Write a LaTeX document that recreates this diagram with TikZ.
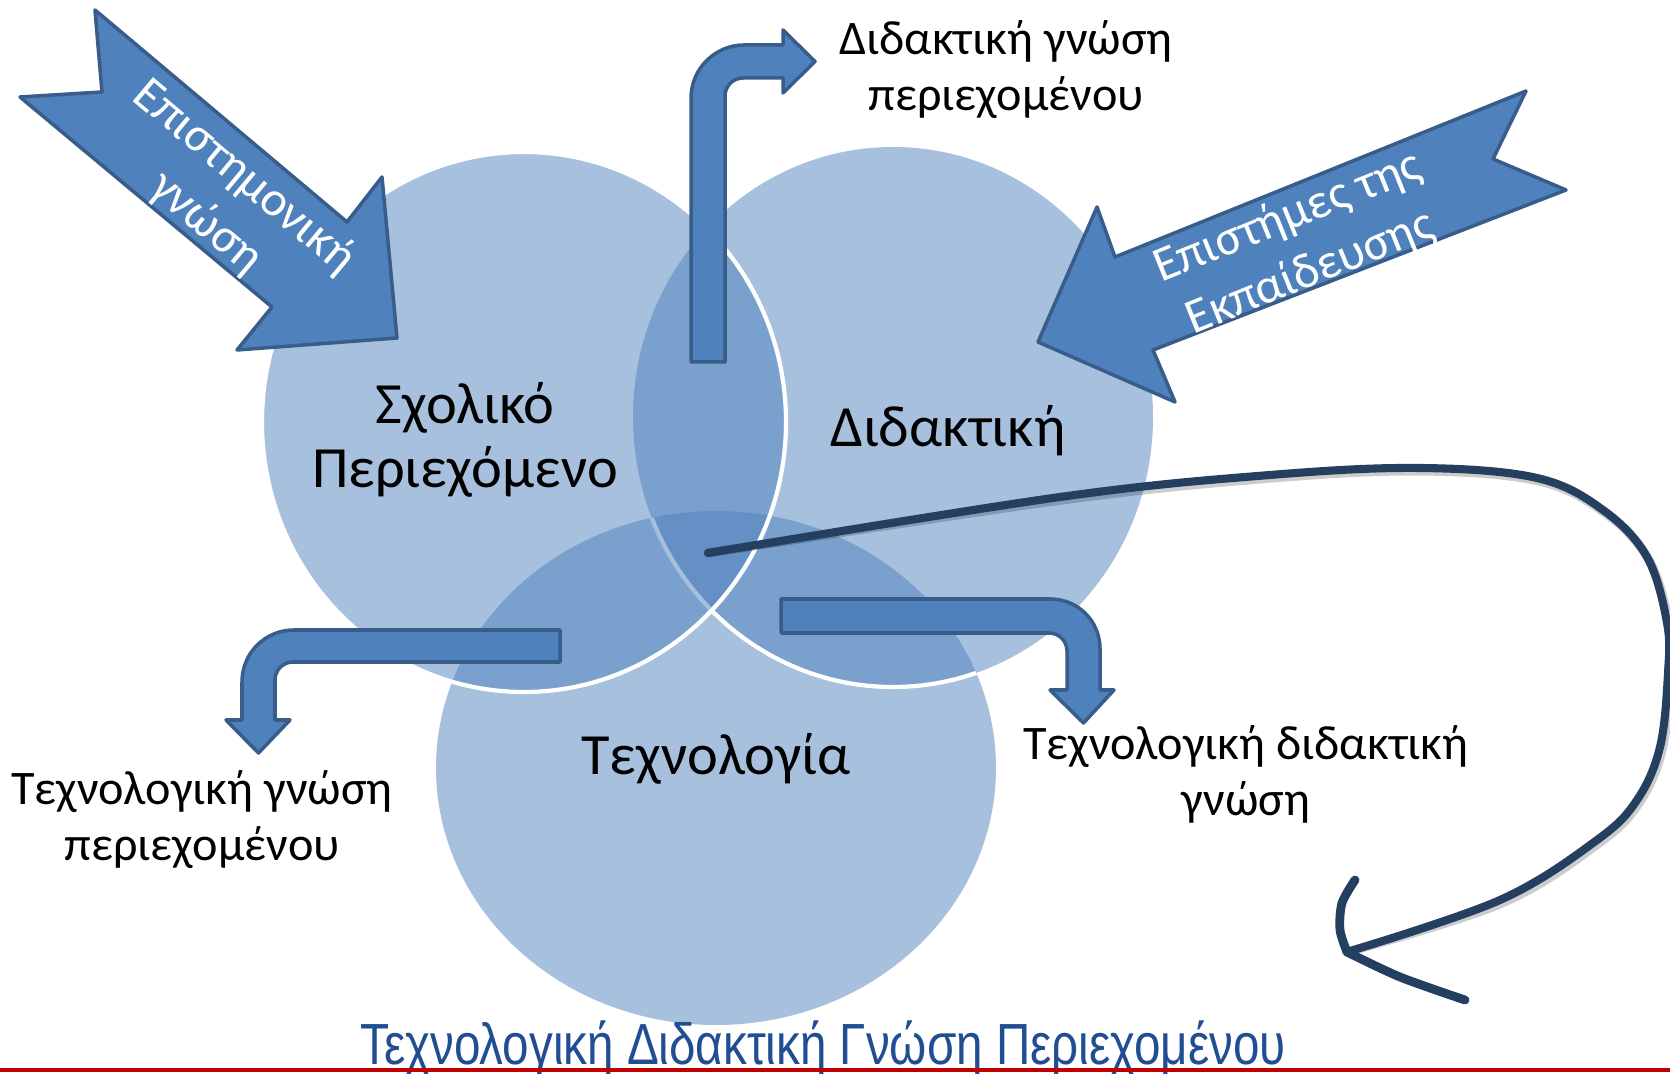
\documentclass[tikz,border=0pt]{standalone}
\usepackage{fontspec}
\setmainfont{Carlito}
\newfontfamily\titlefont[FakeStretch=0.82]{Liberation Sans}
\usepackage{xcolor}

\definecolor{vennblue}{HTML}{4F81BD}
\definecolor{arrowedge}{HTML}{385D8A}
\definecolor{curveblue}{HTML}{243F60}
\definecolor{titleblue}{HTML}{1F4E92}
\definecolor{rulered}{HTML}{C00000}

\begin{document}
\begin{tikzpicture}[
    x=0.01cm,
    y=-0.01cm,
    venn/.style={
        fill=vennblue,
        fill opacity=0.5
    },
    venn_edge/.style={
        draw=white,
        line width=1.2pt
    },
    block_arrow/.style={
        fill=vennblue,
        draw=arrowedge,
        line width=1pt,
        line join=round
    },
    arrow_text/.style={
        text=white,
        align=center,
        font=\fontsize{14}{17}\selectfont
    },
    circle_text/.style={
        align=center,
        font=\fontsize{16.6}{18.2}\selectfont
    },
    label_text/.style={
        align=center,
        font=\fontsize{13.7}{15.9}\selectfont
    },
    curve/.style={
        draw=curveblue,
        line width=2.3pt,
        line cap=round,
        line join=round
    },
    curve_shadow/.style={
        draw=black,
        opacity=0.2,
        line width=2.6pt,
        line cap=round
    }
]
\useasboundingbox (0,0) rectangle (1670,1074);

% Οι τρεις κύκλοι
\path[venn] (716,768) ellipse [x radius=280, y radius=257];
\path[venn] (893,417) ellipse [x radius=260, y radius=270];
\begin{scope}
    \clip (716,768) ellipse [x radius=280, y radius=257];
    \draw[venn_edge] (893,417) ellipse [x radius=260, y radius=270];
\end{scope}
\path[venn] (524,422) ellipse [x radius=262, y radius=270];
\draw[venn_edge] (524,422) ellipse [x radius=262, y radius=270];

\node[circle_text] (school) at (465,440) {Σχολικό\\Περιεχόμενο};
\node[circle_text] (didactics) at (948,431) {Διδακτική};
\node[circle_text] (technology) at (716,759) {Τεχνολογία};

% Εισερχόμενα βέλη
\draw[block_arrow] (95,10) -- (347,222) -- (382,177) -- (397,338) -- (237,350)
    -- (272,307) -- (20,97) -- (102,92) -- cycle;
\node[arrow_text, rotate=-40] (science) at (225,200) {Επιστημονική\\γνώση};

\draw[block_arrow] (1526,91) -- (1115,257) -- (1097,207) -- (1038,342) -- (1175,402)
    -- (1153,350) -- (1566,190) -- (1493,159) -- cycle;
\node[arrow_text, rotate=22] (education) at (1299,245) {Επιστήμες της\\Εκπαίδευσης};

% Βέλη προς τις τομές
\draw[block_arrow] (691,362) -- (691,98) .. controls (691,69) and (715,45) .. (744,45)
    -- (783,45) -- (783,30) -- (815,61.5) -- (783,93) -- (783,78) -- (743,78)
    .. controls (733,78) and (725,86) .. (725,96) -- (725,362) -- cycle;
\draw[block_arrow] (560,630) -- (294,630) .. controls (265,630) and (242,653) .. (242,682)
    -- (242,720) -- (226,720) -- (258.5,753) -- (290,720) -- (275,720) -- (275,680)
    .. controls (275,670) and (283,662) .. (293,662) -- (560,662) -- cycle;
\draw[block_arrow] (781,599) -- (1050,599) .. controls (1078,599) and (1100,621) .. (1100,649)
    -- (1100,690) -- (1114,690) -- (1083.5,723) -- (1050,690) -- (1067,690) -- (1067,651)
    .. controls (1067,641) and (1059,633) .. (1049,633) -- (781,633) -- cycle;

\node[label_text] (pck) at (1006,70) {Διδακτική γνώση\\περιεχομένου};
\node[label_text] (tck) at (202,820) {Τεχνολογική γνώση\\περιεχομένου};
\node[label_text] (tpk) at (1246,774) {Τεχνολογική διδακτική\\γνώση};

% Καμπύλο βέλος
\coordinate (cstart) at (708,553);
\coordinate (ctip) at (1347,952);
\begin{scope}[shift={(2,3)}]
    \draw[curve_shadow] plot[smooth, tension=0.6] coordinates {(cstart) (1060,497) (1270,475)
        (1420,468) (1537,478) (1603,510) (1647,557) (1667,623) (1668,673) (1660,747)
        (1637,800) (1597,840) (1500,900) (ctip)};
\end{scope}
\draw[curve] plot[smooth, tension=0.6] coordinates {(cstart) (1060,497) (1270,475)
    (1420,468) (1537,478) (1603,510) (1647,557) (1667,623) (1668,673) (1660,747)
    (1637,800) (1597,840) (1500,900) (ctip)};
\draw[curve, line width=2.5pt] plot[smooth] coordinates {(1355,880) (1342,903) (1340,930) (ctip)};
\draw[curve, line width=2.5pt] plot[smooth] coordinates {(ctip) (1400,977) (1465,1000)};

% Τίτλος
\node[anchor=base, text=titleblue, font=\titlefont\fontsize{16.5}{18}\selectfont] (title)
    at (823,1064) {Τεχνολογική Διδακτική Γνώση Περιεχομένου};
\draw[rulered, line width=1pt] (0,1070) -- (1670,1070);

\end{tikzpicture}
\end{document}
